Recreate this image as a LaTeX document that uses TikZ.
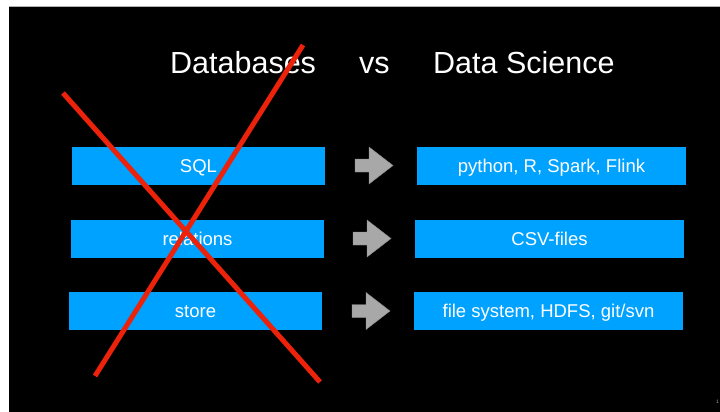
\documentclass[tikz,border=0pt]{standalone}
\usepackage{fontspec}
\setmainfont{Liberation Sans}
\definecolor{kblue}{RGB}{0,162,255}
\definecolor{kred}{RGB}{236,34,10}
\definecolor{kgray}{RGB}{168,168,168}
\begin{document}
\begin{tikzpicture}[x=1pt,y=-1pt,
  bluebox/.style={fill=kblue,draw=none,minimum height=38pt,inner sep=0pt,text height=13.3pt,text depth=0pt,text=white,font=\fontsize{18.5}{22}\selectfont},
  titletext/.style={text=white,inner sep=0pt,anchor=base west,font=\fontsize{30.5}{36}\selectfont},
  crossline/.style={draw=kred,line width=5pt},
  grayarrow/.style={fill=kgray,draw=black!45,line width=0.4pt}]
\useasboundingbox (0,0) rectangle (720,412);
\fill[white] (0,0) rectangle (720,412);
\fill[black] (9,7) rectangle (720,412);
\draw[gray!60,line width=0.6pt] (9,6.5) -- (720,6.5);
% titles
\node[titletext] (tdb) at (170,74) {Databases};
\node[titletext] (tvs) at (359,74) {vs};
\node[titletext] (tds) at (433,74) {Data Science};
% left boxes
\node[bluebox,minimum width=253pt] (sql) at (198.5,166) {SQL};
\node[bluebox,minimum width=253pt] (rel) at (197.5,239) {relations};
\node[bluebox,minimum width=253pt] (sto) at (195.5,311) {store};
% right boxes
\node[bluebox,minimum width=269pt] (py) at (551.5,166) {python, R, Spark, Flink};
\node[bluebox,minimum width=269pt] (csv) at (549.5,239) {CSV-files};
\node[bluebox,minimum width=269pt] (fs) at (548.5,311) {file system, HDFS, git/svn};
% arrows
\foreach \x/\y in {355/165.5, 353/238.5, 352/311}{
  \filldraw[grayarrow] (\x,\y-6.5) -- (\x+14,\y-6.5) -- (\x+14,\y-18.5) -- (\x+38,\y) -- (\x+14,\y+18.5) -- (\x+14,\y+6.5) -- (\x,\y+6.5) -- cycle;
}
% red cross
\coordinate (c1a) at (63,93);
\coordinate (c1b) at (320,382);
\coordinate (c2a) at (303,45);
\coordinate (c2b) at (95,376);
\draw[crossline] (c1a) -- (c1b);
\draw[crossline] (c2a) -- (c2b);
% page number
\node[text=gray!70,inner sep=0pt,anchor=west,font=\fontsize{5}{6}\selectfont] (pg) at (716,402) {1};
\end{tikzpicture}
\end{document}
